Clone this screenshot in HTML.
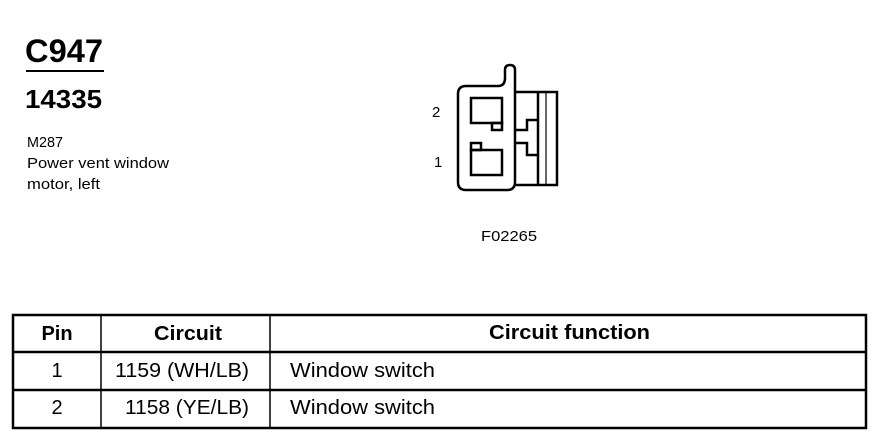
<!DOCTYPE html>
<html><head><meta charset="utf-8"><style>
html,body{margin:0;padding:0;background:#fff;}
svg{display:block}
text{font-family:"Liberation Sans",Arial,sans-serif;fill:#000}
</style></head><body>
<svg width="886" height="448" viewBox="0 0 886 448" xmlns="http://www.w3.org/2000/svg">
<text x="25" y="62" font-size="32" font-weight="bold" textLength="78" lengthAdjust="spacingAndGlyphs">C947</text>
<line x1="26" y1="71" x2="104" y2="71" stroke="#000" stroke-width="2"/>
<text x="25" y="108" font-size="26" font-weight="bold" textLength="77" lengthAdjust="spacingAndGlyphs">14335</text>
<text x="27" y="147" font-size="15" textLength="36" lengthAdjust="spacingAndGlyphs">M287</text>
<text x="27" y="168" font-size="15" textLength="142" lengthAdjust="spacingAndGlyphs">Power vent window</text>
<text x="27" y="189" font-size="15" textLength="73" lengthAdjust="spacingAndGlyphs">motor, left</text>

<g fill="none" stroke="#000" stroke-width="2.5">
<path d="M466 86 L498 86 Q505 86 505 78 L505 70 Q505 65 510 65 Q515 65 515 70 L515 182 Q515 190 507 190 L466 190 Q458 190 458 182 L458 94 Q458 86 466 86 Z"/>
<path d="M515 92 L557 92 L557 185 L515 185"/>
<line x1="538" y1="92" x2="538" y2="185"/>
<line x1="546" y1="92" x2="546" y2="185" stroke-width="1.2"/>
<path d="M515 130 L527 130 L527 120 L538 120"/>
<path d="M515 143 L527 143 L527 155 L538 155"/>
<rect x="471" y="98" width="31" height="25"/>
<rect x="492" y="123" width="10" height="7"/>
<rect x="471" y="150" width="31" height="25"/>
<rect x="471" y="143" width="10" height="7"/>
</g>
<text x="432" y="117" font-size="15">2</text>
<text x="434" y="167" font-size="15">1</text>
<text x="481" y="241" font-size="15" textLength="56" lengthAdjust="spacingAndGlyphs">F02265</text>

<g fill="none" stroke="#000" stroke-width="2.5">
<rect x="13" y="315" width="853" height="113"/>
<line x1="13" y1="352" x2="866" y2="352"/>
<line x1="13" y1="390" x2="866" y2="390"/>
<line x1="101" y1="315" x2="101" y2="428" stroke-width="1.5"/>
<line x1="270" y1="315" x2="270" y2="428" stroke-width="1.5"/>
</g>
<g font-size="20">
<text x="57" y="340" font-weight="bold" text-anchor="middle">Pin</text>
<text x="154" y="340" font-weight="bold" textLength="68" lengthAdjust="spacingAndGlyphs">Circuit</text>
<text x="489" y="339" font-weight="bold" textLength="161" lengthAdjust="spacingAndGlyphs">Circuit function</text>
<text x="57" y="377" text-anchor="middle">1</text>
<text x="115" y="377" textLength="134" lengthAdjust="spacingAndGlyphs">1159 (WH/LB)</text>
<text x="57" y="414" text-anchor="middle">2</text>
<text x="125" y="414" textLength="124" lengthAdjust="spacingAndGlyphs">1158 (YE/LB)</text>
<text x="290" y="377" textLength="145" lengthAdjust="spacingAndGlyphs">Window switch</text>
<text x="290" y="414" textLength="145" lengthAdjust="spacingAndGlyphs">Window switch</text>
</g>
</svg>
</body></html>
